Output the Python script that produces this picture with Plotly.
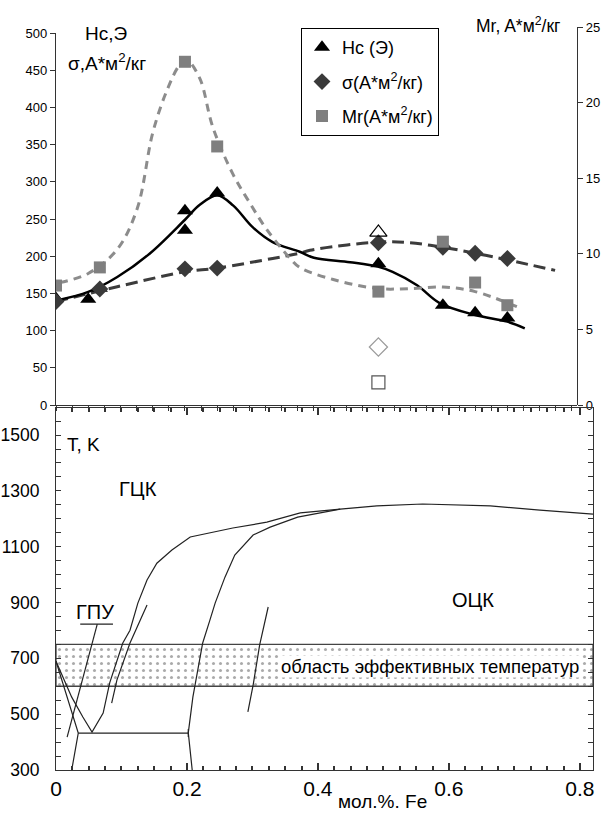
import plotly.graph_objects as go

W, H = 603, 813

# ---------------- top panel data ----------------
hc_x = [0, 0.05, 0.068, 0.2, 0.2, 0.25, 0.5, 0.6, 0.65, 0.7]
hc_y = [143, 142, 157, 261, 235, 285, 190, 134, 124, 117]
hc_open_x = [0.5]
hc_open_y = [232]

sig_x = [0, 0.068, 0.2, 0.25, 0.5, 0.6, 0.65, 0.7]
sig_y = [139, 156, 183, 184, 218, 212, 204, 197]
sig_open_x = [0.5]
sig_open_y = [78]

mr_x = [0, 0.068, 0.2, 0.25, 0.5, 0.6, 0.65, 0.7]
mr_y = [7.9, 9.1, 22.7, 17.1, 7.5, 10.8, 8.1, 6.6]
mr_open_x = [0.5]
mr_open_y = [1.5]

hc_curve_x = [0.003, 0.05, 0.095, 0.146, 0.2, 0.223, 0.25, 0.275, 0.305, 0.336,
              0.378, 0.4, 0.456, 0.499, 0.522, 0.56, 0.595, 0.65, 0.7, 0.727]
hc_curve_y = [141, 152, 172, 204, 249, 269, 282, 268, 239, 219,
              206, 198, 192, 186, 179, 161, 137, 121, 112, 103]

sig_curve_x = [0, 0.095, 0.2, 0.25, 0.336, 0.378, 0.394, 0.5, 0.549, 0.6, 0.65, 0.7, 0.774]
sig_curve_y = [139, 159, 179, 184, 197, 204, 208, 219, 218, 212, 204, 195, 181]

mr_curve_x = [0.006, 0.05, 0.095, 0.126, 0.15, 0.172, 0.192, 0.203, 0.223, 0.243, 0.274,
              0.3, 0.327, 0.363, 0.378, 0.43, 0.5, 0.549, 0.6, 0.65, 0.715]
mr_curve_y = [8.1, 8.7, 10.3, 13.0, 18.0, 20.8, 22.5, 22.8, 21.6, 18.4, 15.3,
              13.4, 11.6, 9.7, 9.1, 8.3, 7.7, 7.7, 7.8, 7.5, 6.5]

# ---------------- bottom panel (phase diagram) data ----------------
fcc_x = [0.0, 0.024, 0.041, 0.055, 0.072, 0.082, 0.102, 0.113, 0.125, 0.139, 0.154,
         0.177, 0.205, 0.270, 0.322, 0.373, 0.434, 0.490, 0.560, 0.663, 0.739, 0.820]
fcc_T = [690, 561, 490, 436, 504, 612, 755, 801, 898, 981, 1041,
         1088, 1135, 1167, 1188, 1221, 1235, 1246, 1253, 1246, 1231, 1217]

seg2_x = [0.139, 0.113, 0.093, 0.085]
seg2_T = [891, 755, 622, 540]

bcc_x = [0.208, 0.202, 0.209, 0.224, 0.235, 0.243, 0.258, 0.273, 0.301, 0.327, 0.369, 0.408, 0.434]
bcc_T = [300, 433, 561, 755, 837, 898, 991, 1070, 1142, 1170, 1206, 1224, 1235]

eut_x = [0.034, 0.202]
eut_T = [432, 432]
eut_tick_x = [0.202, 0.202]
eut_tick_T = [418, 447]

hcp_x = [0.0, 0.034, 0.024]
hcp_T = [690, 432, 300]

ptr_x = [0.063, 0.017]
ptr_T = [823, 418]
uline_x = [0.037, 0.087]
uline_T = [823, 823]

seg6_x = [0.324, 0.311, 0.301, 0.293]
seg6_T = [884, 748, 604, 508]

band_x = [0, 0.82, 0.82, 0, 0]
band_T = [600, 600, 750, 750, 600]

x_ticks = [0, 0.2, 0.4, 0.6, 0.8]
x_ticklabels = ["0", "0.2", "0.4", "0.6", "0.8"]

FONT = "Liberation Sans, Arial, sans-serif"


def px(xp):
    return xp / W


def py(yp):
    return 1 - yp / H


fig = go.Figure()

# curves (top)
fig.add_trace(go.Scatter(x=mr_curve_x, y=mr_curve_y, mode="lines", xaxis="x2", yaxis="y2",
                         line=dict(color="#8c8c8c", width=3, dash="8px,6px", shape="spline"),
                         showlegend=False, hoverinfo="skip"))
fig.add_trace(go.Scatter(x=sig_curve_x, y=sig_curve_y, mode="lines", xaxis="x", yaxis="y",
                         line=dict(color="#3c3c3c", width=3, dash="12px,6px", shape="spline"),
                         showlegend=False, hoverinfo="skip"))
fig.add_trace(go.Scatter(x=hc_curve_x, y=hc_curve_y, mode="lines", xaxis="x", yaxis="y",
                         line=dict(color="black", width=2.5, shape="spline"),
                         showlegend=False, hoverinfo="skip"))

# markers (top)
fig.add_trace(go.Scatter(x=hc_x, y=hc_y, mode="markers", name="Hc (Э)", xaxis="x", yaxis="y",
                         legendgroup="a",
                         marker=dict(symbol="triangle-up", size=14, color="black")))
fig.add_trace(go.Scatter(x=sig_x, y=sig_y, mode="markers", name="σ(A*м<sup>2</sup>/кг)",
                         xaxis="x", yaxis="y", legendgroup="b",
                         marker=dict(symbol="diamond", size=13, color="#3a3a3a")))
fig.add_trace(go.Scatter(x=mr_x, y=mr_y, mode="markers", name="Mr(A*м<sup>2</sup>/кг)",
                         xaxis="x2", yaxis="y2", legendgroup="c",
                         marker=dict(symbol="square", size=12, color="#7f7f7f")))
fig.add_trace(go.Scatter(x=hc_open_x, y=hc_open_y, mode="markers", xaxis="x", yaxis="y",
                         showlegend=False,
                         marker=dict(symbol="triangle-up-open", size=15, color="black",
                                     line=dict(width=1.2))))
fig.add_trace(go.Scatter(x=sig_open_x, y=sig_open_y, mode="markers", xaxis="x", yaxis="y",
                         showlegend=False,
                         marker=dict(symbol="diamond-open", size=14, color="#9a9a9a",
                                     line=dict(width=1.2))))
fig.add_trace(go.Scatter(x=mr_open_x, y=mr_open_y, mode="markers", xaxis="x2", yaxis="y2",
                         showlegend=False,
                         marker=dict(symbol="square-open", size=13, color="#555555",
                                     line=dict(width=1.2))))

# bottom panel
fig.add_trace(go.Scatter(x=band_x, y=band_T, mode="lines", xaxis="x3", yaxis="y3",
                         fill="toself", fillcolor="white",
                         fillpattern=dict(shape=".", fgcolor="#555555", bgcolor="white",
                                          size=7, solidity=0.15),
                         line=dict(color="#444444", width=1.3), showlegend=False,
                         hoverinfo="skip"))
line_style = dict(color="#222222", width=1.2)
for xs, ts in [(fcc_x, fcc_T), (seg2_x, seg2_T), (bcc_x, bcc_T), (eut_x, eut_T),
               (eut_tick_x, eut_tick_T), (hcp_x, hcp_T), (ptr_x, ptr_T),
               (uline_x, uline_T), (seg6_x, seg6_T)]:
    fig.add_trace(go.Scatter(x=xs, y=ts, mode="lines", xaxis="x3", yaxis="y3",
                             line=line_style, showlegend=False, hoverinfo="skip"))

axis_common = dict(showgrid=False, zeroline=False, linecolor="#333333", linewidth=1.2,
                   tickcolor="#333333", automargin=False)

fig.update_layout(
    width=W, height=H, autosize=False,
    margin=dict(l=0, r=0, t=0, b=0, autoexpand=False),
    paper_bgcolor="white", plot_bgcolor="rgba(0,0,0,0)",
    font=dict(family=FONT, color="black"),
    xaxis=dict(domain=[px(56), px(577)], range=[0, 0.808], anchor="y",
               showline=True, ticks="outside", ticklen=5, dtick=0.025, tick0=0,
               showticklabels=False, **axis_common),
    yaxis=dict(domain=[py(405), py(33)], range=[0, 500], anchor="x", dtick=50,
               showline=True, ticks="outside", ticklen=5,
               tickfont=dict(size=13, family=FONT), **axis_common),
    xaxis2=dict(domain=[px(56), px(577)], range=[0, 0.808], anchor="y2", visible=False,
                showgrid=False, zeroline=False, automargin=False),
    yaxis2=dict(domain=[py(405), py(27)], range=[0, 25], anchor="x2", side="right",
                dtick=5, showline=True, ticks="outside", ticklen=5,
                tickfont=dict(size=13, family=FONT), **axis_common),
    xaxis3=dict(domain=[px(56), px(593)], range=[0, 0.82], anchor="y3",
                showline=True, mirror="allticks", ticks="inside", ticklen=7, tickwidth=2,
                tickvals=x_ticks, ticktext=x_ticklabels,
                tickfont=dict(size=21, family=FONT),
                minor=dict(dtick=0.025, tick0=0, ticks="inside", ticklen=4,
                           tickcolor="#333333"),
                **axis_common),
    yaxis3=dict(domain=[py(770), py(408)], range=[300, 1597], anchor="x3",
                showline=True, mirror="allticks", ticks="inside", ticklen=5,
                tick0=300, dtick=200, ticklabelstandoff=12,
                tickfont=dict(size=17.5, family=FONT),
                minor=dict(dtick=50, tick0=300, ticks="inside", ticklen=5,
                           tickcolor="#333333"),
                **axis_common),
    legend=dict(x=px(301), y=py(28), xanchor="left", yanchor="top",
                bordercolor="black", borderwidth=1, bgcolor="white",
                font=dict(size=18, family=FONT), tracegroupgap=8,
                itemwidth=30),
)

annots = [
    ("Hc,Э", 106, 33, 19, None),
    ("σ,A*м<sup>2</sup>/кг", 107, 62, 19, None),
    ("Mr, A*м<sup>2</sup>/кг", 518, 25, 17.5, None),
    ("T, K", 83, 444, 19, None),
    ("ГЦК", 138, 489, 20, None),
    ("ГПУ", 95, 612, 20, None),
    ("ОЦК", 473, 600, 20, None),
    ("область эффективных температур", 430, 666, 18.5, "white"),
    ("мол.%. Fe", 382, 801, 19, None),
]
for text, xp, yp, size, bg in annots:
    a = dict(text=text, x=px(xp), y=py(yp), xref="paper", yref="paper",
             xanchor="center", yanchor="middle", showarrow=False,
             font=dict(size=size, family=FONT, color="black"))
    if bg:
        a["bgcolor"] = bg
        a["borderpad"] = 0
    fig.add_annotation(**a)

fig.write_html("out.html", config={"displayModeBar": False},
               post_script="document.body.style.margin='0px';document.body.style.overflow='hidden';")
